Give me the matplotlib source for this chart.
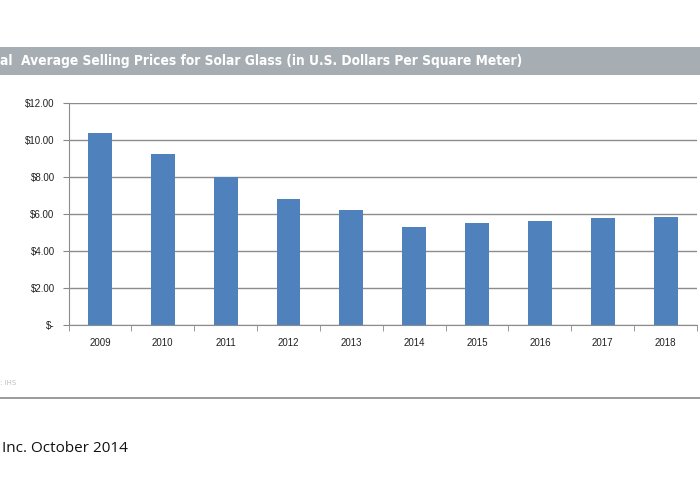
import numpy as np
from matplotlib import pyplot as plt
from matplotlib import font_manager
from matplotlib.lines import Line2D
from matplotlib.patches import Rectangle

years = ['2009', '2010', '2011', '2012', '2013', '2014', '2015', '2016', '2017', '2018']
prices = [10.40, 9.23, 8.00, 6.80, 6.21, 5.29, 5.49, 5.61, 5.81, 5.86]
yticks = [0, 2, 4, 6, 8, 10, 12]
ylabels = ['$-', '$2.00', '$4.00', '$6.00', '$8.00', '$10.00', '$12.00']

title = 'al  Average Selling Prices for Solar Glass (in U.S. Dollars Per Square Meter)'
source = ': IHS'
footer = 'Inc. October 2014'

def pick(names):
	have = {f.name for f in font_manager.fontManager.ttflist}
	return [n for n in names if n in have] + ['DejaVu Sans']

def main():
	fig = plt.figure(figsize=(7, 5), dpi=100)
	fig.patch.set_facecolor('white')

	# grey title banner
	fig.patches.append(Rectangle((0, 1-75/500), 1, 28/500, transform=fig.transFigure,
								 facecolor='#a6aeb4', edgecolor='none', zorder=0))
	narrow = pick(['Liberation Sans Narrow', 'DejaVu Sans Condensed'])
	t = fig.text(0.0, 1-61/500, title, color='white', fontsize=10, fontweight='bold',
				 family=narrow, fontstretch='condensed', va='center', ha='left')
	# squeeze to the banner width of the original
	fig.canvas.draw()
	w = t.get_window_extent().width
	t.set_fontsize(10 * 522 / w)

	ax = fig.add_axes([68.5/700, 1-325/500, (697-68.5)/700, (325-103)/500])
	x = np.arange(len(years))
	ax.bar(x, prices, width=0.38, color='#4f81bd', zorder=3)
	ax.set_xlim(-0.5, len(years)-0.5)
	ax.set_ylim(0, 12)
	ax.set_yticks(yticks)
	ax.set_yticklabels(ylabels)
	ax.set_xticks(x)
	ax.set_xticklabels(years)
	ax.set_xticks(np.arange(len(years)+1)-0.5, minor=True)
	ax.tick_params(axis='x', which='major', length=0, pad=9)
	ax.tick_params(axis='x', which='minor', length=4, color='#888888', direction='out')
	ax.tick_params(axis='y', length=4, color='#888888', pad=6)
	for lab in ax.get_xticklabels() + ax.get_yticklabels():
		lab.set_fontsize(7)
		lab.set_family(['Liberation Sans', 'DejaVu Sans'])
		lab.set_color('#222222')
	ax.yaxis.grid(True, color='#8c8c8c', linewidth=1.0, zorder=0)
	for s in ['top', 'right']:
		ax.spines[s].set_visible(False)
	ax.spines['left'].set_color('#8c8c8c')
	ax.spines['bottom'].set_color('#8c8c8c')

	fig.text(0.0, 1-383/500, source, color='#c0c0c0', fontsize=5, va='center', ha='left')
	fig.lines.append(Line2D([0, 1], [1-398/500, 1-398/500], transform=fig.transFigure,
							color='#8a8a8a', linewidth=1.2))
	fig.text(0.003, 1-449/500, footer, color='#111111', fontsize=11, va='center', ha='left',
			 family=['Open Sans', 'DejaVu Sans'])

	fig.savefig('out.png', dpi=100)
	return 0


if __name__ == '__main__':
	main()
